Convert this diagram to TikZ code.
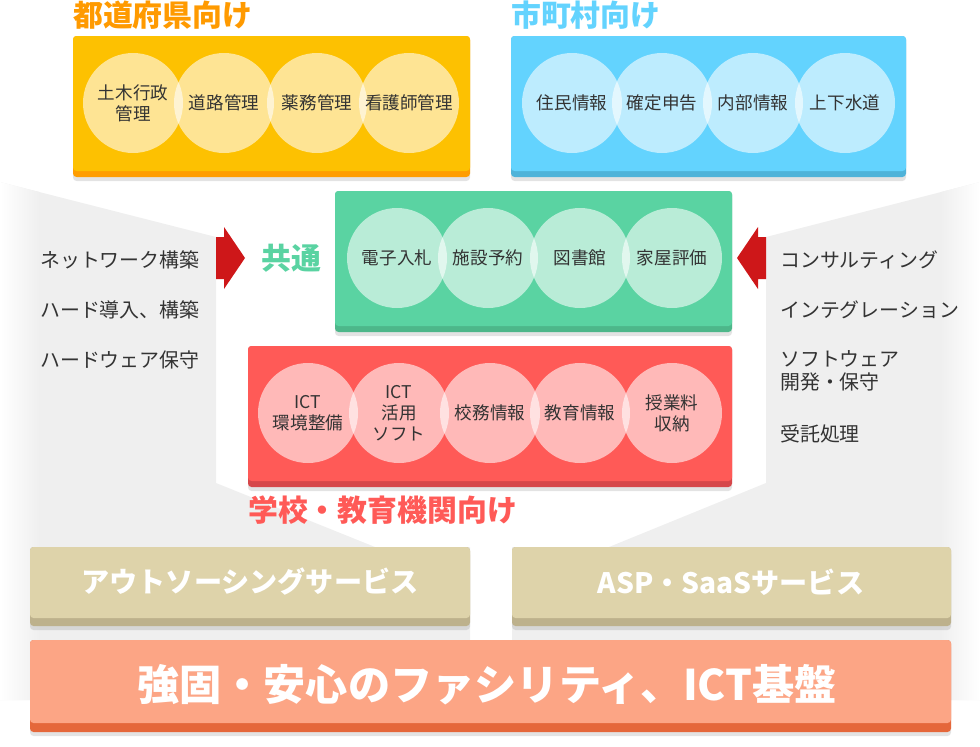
\documentclass[tikz,border=0pt]{standalone}
\usepackage{fontspec}
\setmainfont{Noto Sans CJK JP}
\usetikzlibrary{shadows}
\definecolor{prefmain}{HTML}{FDC101}
\definecolor{prefband}{HTML}{FF9D00}
\definecolor{preftitle}{HTML}{FF9A00}
\definecolor{citymain}{HTML}{63D3FE}
\definecolor{cityband}{HTML}{4FB3D9}
\definecolor{commonmain}{HTML}{5AD3A2}
\definecolor{commonband}{HTML}{4DB78A}
\definecolor{schoolmain}{HTML}{FF5A57}
\definecolor{schoolband}{HTML}{D6474A}
\definecolor{svcmain}{HTML}{DED3AA}
\definecolor{svcband}{HTML}{BDB18C}
\definecolor{basemain}{HTML}{FCA585}
\definecolor{baseband}{HTML}{E5673A}
\definecolor{arrowred}{HTML}{CE1719}
\definecolor{bggray}{HTML}{EFEFEF}
\definecolor{textgray}{HTML}{333333}
\begin{document}
\begin{tikzpicture}[x=0.3mm,y=-0.3mm,
  bubble/.style={circle,fill=white,fill opacity=0.58,text opacity=1,
    minimum size=30mm,inner sep=0pt,text=textgray,align=center,
    font=\fontsize{15pt}{18pt}\selectfont},
  sidetext/.style={anchor=west,text=textgray,align=left,inner sep=0pt,
    font=\fontsize{17pt}{20pt}\selectfont},
  title/.style={anchor=west,inner sep=0pt,font=\fontsize{25.5pt}{28pt}\selectfont\bfseries},
  banner/.style={text=white,font=\fontsize{24pt}{27pt}\selectfont\bfseries},
  boxshadow/.style={drop shadow={opacity=0.22,shadow xshift=0pt,shadow yshift=-1.2mm}}]
  \useasboundingbox (0,0) rectangle (980,746);
  % grey funnel behind everything
  \begin{scope}
    \clip (0,182) -- (216,237) -- (216,483) -- (375,547) -- (470,547)
      -- (470,640) -- (512,640) -- (512,547) -- (609,547) -- (766,483)
      -- (766,237) -- (980,182) -- (980,700) -- (0,700) -- cycle;
    \fill[bggray] (0,150) rectangle (980,746);
    \shade[left color=white,right color=bggray] (0,150) rectangle (40,746);
    \shade[left color=bggray,right color=white] (940,150) rectangle (980,746);
  \end{scope}

  % prefectures
  \node[title,text=preftitle] (preftitle) at (73,15) {都道府県向け};
  \fill[prefband,rounded corners=3,boxshadow] (73,36) rectangle (470,177);
  \fill[prefmain,rounded corners=3] (73,36) rectangle (470,171);
  \node[bubble] (pref1) at (133,103) {土木行政\\管理};
  \node[bubble] (pref2) at (224,103) {道路管理};
  \node[bubble] (pref3) at (317,103) {薬務管理};
  \node[bubble] (pref4) at (409,103) {看護師管理};

  % municipalities
  \node[title,text=citymain] (citytitle) at (511,15) {市町村向け};
  \fill[cityband,rounded corners=3,boxshadow] (511,36) rectangle (906,177);
  \fill[citymain,rounded corners=3] (511,36) rectangle (906,171);
  \node[bubble] (city1) at (572,103) {住民情報};
  \node[bubble] (city2) at (662,103) {確定申告};
  \node[bubble] (city3) at (753,103) {内部情報};
  \node[bubble] (city4) at (845,103) {上下水道};

  % common
  \node[title,text=commonmain] (commontitle) at (261,258) {共通};
  \fill[commonband,rounded corners=3,boxshadow] (335,191) rectangle (732,332);
  \fill[commonmain,rounded corners=3] (335,191) rectangle (732,326);
  \node[bubble] (common1) at (397,258) {電子入札};
  \node[bubble] (common2) at (488,258) {施設予約};
  \node[bubble] (common3) at (580,258) {図書館};
  \node[bubble] (common4) at (672,258) {家屋評価};

  % schools
  \fill[schoolband,rounded corners=3,boxshadow] (248,346) rectangle (732,487);
  \fill[schoolmain,rounded corners=3] (248,346) rectangle (732,481);
  \node[bubble] (school1) at (308,413) {ICT\\環境整備};
  \node[bubble] (school2) at (399,413) {ICT\\活用\\ソフト};
  \node[bubble] (school3) at (490,413) {校務情報};
  \node[bubble] (school4) at (580,413) {教育情報};
  \node[bubble] (school5) at (672,413) {授業料\\収納};
  \node[title,text=schoolmain] (schooltitle) at (248,510) {学校・教育機関向け};

  % arrows
  \fill[arrowred] (216,237) -- (224,237) -- (224,227) -- (245,258)
    -- (224,289) -- (224,279) -- (216,279) -- cycle;
  \fill[arrowred] (766,237) -- (758,237) -- (758,227) -- (737,258)
    -- (758,289) -- (758,279) -- (766,279) -- cycle;

  % side texts
  \node[sidetext] (left1) at (40,260) {ネットワーク構築};
  \node[sidetext] (left2) at (40,310) {ハード導入、構築};
  \node[sidetext] (left3) at (40,360) {ハードウェア保守};
  \node[sidetext] (right1) at (780,260) {コンサルティング};
  \node[sidetext] (right2) at (780,310) {インテグレーション};
  \node[sidetext] (right3) at (780,371) {ソフトウェア\\開発・保守};
  \node[sidetext] (right4) at (780,434) {受託処理};

  % services
  \fill[svcband,rounded corners=3,boxshadow] (30,547) rectangle (470,626);
  \fill[svcmain,rounded corners=3] (30,547) rectangle (470,618);
  \node[banner] (outsourcing) at (250,582) {アウトソーシングサービス};
  \fill[svcband,rounded corners=3,boxshadow] (512,547) rectangle (951,626);
  \fill[svcmain,rounded corners=3] (512,547) rectangle (951,618);
  \node[banner] (asp) at (731,582) {ASP・SaaSサービス};

  % base
  \fill[baseband,rounded corners=3,boxshadow] (30,640) rectangle (951,732);
  \fill[basemain,rounded corners=3] (30,640) rectangle (951,723);
  \node[banner,font=\fontsize{36pt}{40pt}\selectfont\bfseries] (base) at (487,685)
    {強固・安心のファシリティ、ICT基盤};
\end{tikzpicture}
\end{document}
